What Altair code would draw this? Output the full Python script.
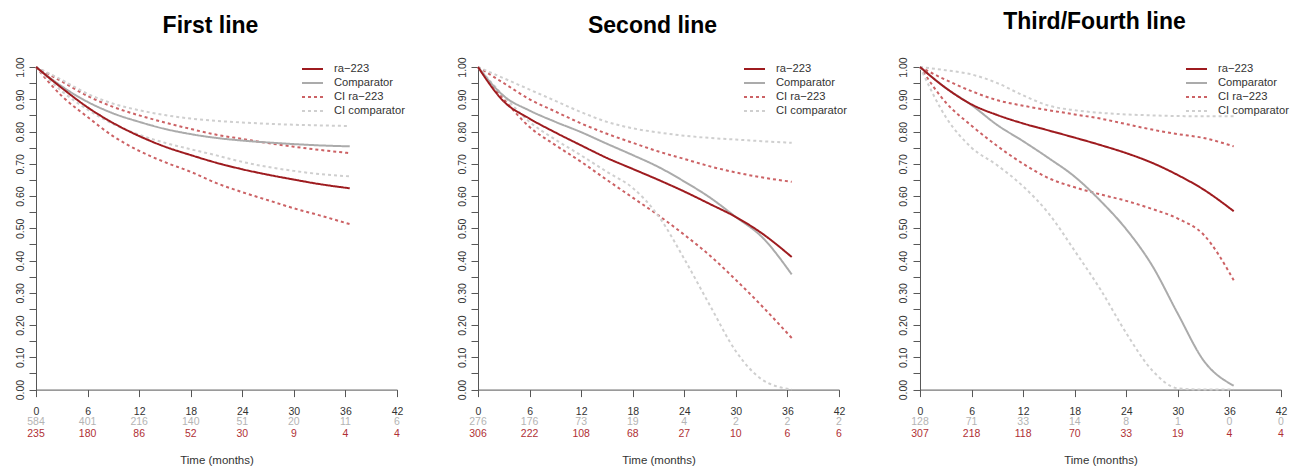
import altair as alt
import pandas as pd

# ---------------- data ----------------
T = [0, 3, 6, 9, 12, 15, 18, 21, 24, 27, 30, 33, 36.5]

# First line
p1_ra      = [1.0, 0.935, 0.875, 0.826, 0.786, 0.753, 0.727, 0.703, 0.683, 0.666, 0.651, 0.637, 0.624]
p1_comp    = [1.0, 0.940, 0.892, 0.856, 0.830, 0.808, 0.792, 0.780, 0.772, 0.766, 0.761, 0.757, 0.754]
p1_ra_hi   = [1.0, 0.955, 0.910, 0.876, 0.850, 0.828, 0.808, 0.790, 0.777, 0.764, 0.753, 0.743, 0.733]
p1_ra_lo   = [1.0, 0.910, 0.845, 0.785, 0.740, 0.705, 0.675, 0.640, 0.612, 0.587, 0.562, 0.540, 0.513]
p1_comp_hi = [1.0, 0.960, 0.917, 0.886, 0.866, 0.851, 0.840, 0.833, 0.828, 0.824, 0.821, 0.819, 0.817]
p1_comp_lo = [1.0, 0.925, 0.868, 0.823, 0.790, 0.765, 0.745, 0.726, 0.706, 0.690, 0.678, 0.668, 0.661]

# Second line
p2_ra      = [1.0, 0.893, 0.840, 0.797, 0.757, 0.718, 0.684, 0.650, 0.614, 0.575, 0.535, 0.485, 0.411]
p2_comp    = [1.0, 0.910, 0.865, 0.830, 0.798, 0.762, 0.727, 0.690, 0.645, 0.595, 0.535, 0.474, 0.357]
p2_ra_hi   = [1.0, 0.950, 0.900, 0.862, 0.825, 0.793, 0.765, 0.738, 0.715, 0.692, 0.673, 0.658, 0.644]
p2_ra_lo   = [1.0, 0.900, 0.814, 0.758, 0.706, 0.650, 0.595, 0.540, 0.480, 0.415, 0.340, 0.260, 0.160]
p2_comp_hi = [1.0, 0.965, 0.930, 0.895, 0.860, 0.830, 0.810, 0.797, 0.787, 0.780, 0.775, 0.770, 0.765]
p2_comp_lo = [1.0, 0.910, 0.830, 0.775, 0.726, 0.675, 0.625, 0.538, 0.405, 0.260, 0.119, 0.032, 0.0]

# Third/Fourth line
p3_ra      = [1.0, 0.935, 0.884, 0.851, 0.825, 0.803, 0.781, 0.758, 0.733, 0.703, 0.665, 0.620, 0.553]
p3_comp    = [1.0, 0.935, 0.882, 0.820, 0.770, 0.717, 0.660, 0.585, 0.497, 0.385, 0.235, 0.090, 0.012]
p3_ra_hi   = [1.0, 0.960, 0.925, 0.897, 0.880, 0.866, 0.853, 0.840, 0.823, 0.806, 0.792, 0.780, 0.754]
p3_ra_lo   = [1.0, 0.890, 0.818, 0.755, 0.700, 0.655, 0.627, 0.605, 0.585, 0.560, 0.530, 0.480, 0.339]
p3_comp_hi = [1.0, 0.990, 0.977, 0.950, 0.912, 0.880, 0.866, 0.858, 0.853, 0.850, 0.848, 0.847, 0.847]
p3_comp_lo = [1.0, 0.845, 0.750, 0.695, 0.630, 0.545, 0.430, 0.310, 0.175, 0.060, 0.004, 0.0, 0.0]

# numbers at risk
RISK_T = [0, 6, 12, 18, 24, 30, 36, 42]
p1_n_comp = [584, 401, 216, 140, 51, 20, 11, 6]
p1_n_ra   = [235, 180, 86, 52, 30, 9, 4, 4]
p2_n_comp = [276, 176, 73, 19, 4, 2, 2, 2]
p2_n_ra   = [306, 222, 108, 68, 27, 10, 6, 6]
p3_n_comp = [128, 71, 33, 14, 8, 1, 0, 0]
p3_n_ra   = [307, 218, 118, 70, 33, 19, 4, 4]

TITLES = ["First line", "Second line", "Third/Fourth line"]

SERIES = ["ra\u2212223", "Comparator", "CI ra\u2212223", "CI comparator"]
COLORS = ["#9e1b1f", "#ababab", "#cc6265", "#cfcfcf"]
DASHES = [[1, 0], [1, 0], [3, 3], [3, 3]]
WIDTHS = [2.0, 2.0, 1.0, 1.0]

X_TICKS = [0, 6, 12, 18, 24, 30, 36, 42]
Y_TICKS = [round(i * 0.05, 2) for i in range(21)]

FONT = "Liberation Sans"
W, H = 361, 322.6


def panel(title, ra, comp, ra_lo, ra_hi, comp_lo, comp_hi, n_comp, n_ra, toff):
    rows = []
    for name, bound, vals in [
        (SERIES[2], "lo", ra_lo), (SERIES[2], "hi", ra_hi),
        (SERIES[3], "lo", comp_lo), (SERIES[3], "hi", comp_hi),
        (SERIES[1], "est", comp), (SERIES[0], "est", ra),
    ]:
        for t, s in zip(T, vals):
            rows.append({"series": name, "bound": bound, "t": t, "s": s})
    df = pd.DataFrame(rows)

    x = alt.X("t:Q", scale=alt.Scale(domain=[0, 42], nice=False, zero=False),
              axis=alt.Axis(values=X_TICKS, title="Time (months)", grid=False,
                            tickSize=7, labelPadding=9.5, labelFontSize=10.5,
                            labelFlush=False, labelColor="#333333",
                            titleFontSize=11.5, titleFontWeight="normal",
                            titleColor="#333333", titlePadding=38,
                            domainColor="#555555", tickColor="#555555"))
    y = alt.Y("s:Q", scale=alt.Scale(domain=[0, 1], nice=False),
              axis=alt.Axis(values=Y_TICKS, title=None, grid=False,
                            labelExpr="(round(datum.value*100) % 10 == 0) ? format(datum.value, '.2f') : ''",
                            labelAngle=270, labelAlign="center", labelBaseline="bottom",
                            labelOverlap=False, labelFlush=False,
                            tickSize=7, labelPadding=4, labelFontSize=10.5,
                            labelColor="#333333",
                            domainColor="#555555", tickColor="#555555"))
    legend = alt.Legend(title=None, orient="none", legendX=268.5, legendY=-6,
                        symbolType="M-1.5,0H1.5", symbolSize=196, labelFontSize=11.2,
                        labelColor="#333333", labelOffset=13.5, rowPadding=0,
                        padding=0, labelFont=FONT)
    enc = dict(
        x=x, y=y,
        color=alt.Color("series:N", scale=alt.Scale(domain=SERIES, range=COLORS), legend=legend),
        strokeDash=alt.StrokeDash("series:N", scale=alt.Scale(domain=SERIES, range=DASHES), legend=legend),
        strokeWidth=alt.StrokeWidth("series:N", scale=alt.Scale(domain=SERIES, range=WIDTHS), legend=legend),
        detail="bound:N",
    )
    ci = alt.Chart(df[df.bound != "est"]).mark_line(interpolate="monotone").encode(**enc)
    est = alt.Chart(df[df.bound == "est"]).mark_line(interpolate="monotone").encode(**enc)

    risk = pd.DataFrame({"t": RISK_T, "nc": [str(v) for v in n_comp], "nr": [str(v) for v in n_ra]})
    txt_c = alt.Chart(risk).mark_text(fontSize=10.5, color="#b4b4b4", baseline="middle", font=FONT).encode(
        x="t:Q", y=alt.value(H + 32), text="nc:N")
    txt_r = alt.Chart(risk).mark_text(fontSize=10.5, color="#b03035", baseline="middle", font=FONT).encode(
        x="t:Q", y=alt.value(H + 44.5), text="nr:N")

    return alt.layer(ci, est, txt_c, txt_r).properties(
        width=W, height=H,
        title=alt.TitleParams(title, fontSize=23, fontWeight="bold", font=FONT,
                              color="#000000", offset=toff, dx=-6, anchor="middle"),
    )


c1 = panel(TITLES[0], p1_ra, p1_comp, p1_ra_lo, p1_ra_hi, p1_comp_lo, p1_comp_hi, p1_n_comp, p1_n_ra, 19)
c2 = panel(TITLES[1], p2_ra, p2_comp, p2_ra_lo, p2_ra_hi, p2_comp_lo, p2_comp_hi, p2_n_comp, p2_n_ra, 19)
c3 = panel(TITLES[2], p3_ra, p3_comp, p3_ra_lo, p3_ra_hi, p3_comp_lo, p3_comp_hi, p3_n_comp, p3_n_ra, 23)

chart = alt.hconcat(c1, c2, c3, spacing=81, bounds="flush").resolve_scale(
    color="independent", strokeDash="independent", strokeWidth="independent"
).resolve_legend(
    color="independent", strokeDash="independent", strokeWidth="independent"
).properties(
    padding={"left": 7, "top": 2, "right": 0, "bottom": 0}
).configure(font=FONT).configure_view(stroke=None)

chart.save("out.html", embed_options={"renderer": "svg", "actions": False})
